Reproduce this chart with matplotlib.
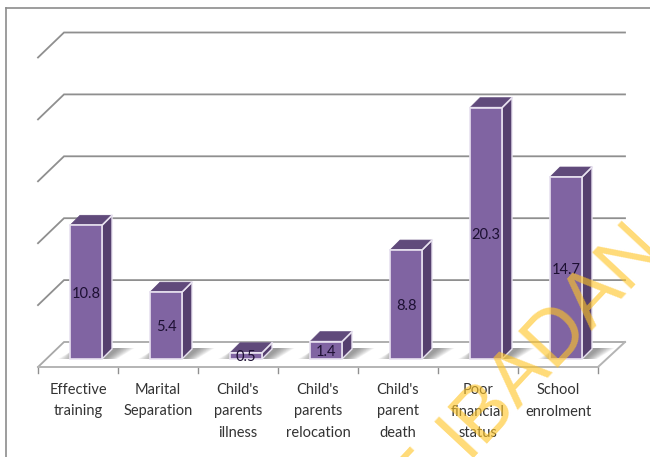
import matplotlib
matplotlib.use("Agg")
import matplotlib.pyplot as plt
from matplotlib.patches import Polygon

categories = [["Effective", "training"], ["Marital", "Separation"], ["Child's", "parents", "illness"],
              ["Child's", "parents", "relocation"], ["Child's", "parent", "death"],
              ["Poor", "financial", "status"], ["School", "enrolment"]]
values = [10.8, 5.4, 0.5, 1.4, 8.8, 20.3, 14.7]
value_labels = ["10.8", "5.4", "0.5", "1.4", "8.8", "20.3", "14.7"]
grid_values = [0, 5, 10, 15, 20, 25]

W, H = 650, 457
fig = plt.figure(figsize=(W / 100, H / 100), dpi=100, facecolor="white")
BASE = 359
UNIT = 12.38
ax = fig.add_axes([38 / W, (H - BASE) / H, 560 / W, UNIT * 25 / H], zorder=2)
ax.set_xlim(0, 7)
ax.set_ylim(0, 25)
ax.axis("off")
PX = 1 / 80          # one pixel in x data units
PY = 1 / UNIT        # one pixel in y data units

fig.add_artist(plt.Line2D([5.5 / W, 5.5 / W], [0, (H - 7.5) / H], color="#8c8c8c", lw=1.2))
fig.add_artist(plt.Line2D([5.5 / W, 1], [(H - 7.5) / H] * 2, color="#8c8c8c", lw=1.2))

# wall depth offsets in pixels
BDX, BDY = 26, 17
FDY = -8

for v in grid_values:
    c = "#a8a8a8" if v == 0 else "#8f8f8f"
    ax.plot([0, BDX * PX, 7 + (BDX + 1) * PX], [v + FDY * PY, v + BDY * PY, v + BDY * PY],
            color=c, lw=1.3, solid_joinstyle="miter", zorder=1, clip_on=False)

ax.plot([0, 7, 7 + (BDX + 1) * PX], [FDY * PY, FDY * PY, BDY * PY], color="#b4b4b4", lw=1.4,
        zorder=1.5, clip_on=False)
for i in range(8):
    ax.plot([i, i], [FDY * PY, (FDY - 6) * PY], color="#8f8f8f", lw=1, zorder=1, clip_on=False)

BAR_LEFT = 0.4
BAR_W = 0.4
DX, DY = 10, 10
FACE, TOP, SIDE, EDGE = "#8064A2", "#604A7B", "#553F6E", "#E8E2F0"

for i, (v, lab) in enumerate(zip(values, value_labels)):
    l, r = i + BAR_LEFT, i + BAR_LEFT + BAR_W
    for k in range(10):
        a = 0.07
        ax.add_patch(Polygon([(r, 0), (r + (4 + k * 1.2) * PX, 0), (r + (18 + k * 1.6) * PX, 11 * PY), (r + 10 * PX, 11 * PY)],
                             closed=True, fc="#4a4a4a", ec="none", alpha=a, zorder=2, clip_on=False))
        ax.add_patch(Polygon([(l, 0), (l - (2 + k * 1.1) * PX, 0), (l, 7 * PY)],
                             closed=True, fc="#4a4a4a", ec="none", alpha=a * 0.6, zorder=2, clip_on=False))
    dx, dy = DX * PX, DY * PY
    ax.add_patch(Polygon([(r, 0), (r + dx, dy), (r + dx, v + dy), (r, v)], closed=True,
                         fc=SIDE, ec=EDGE, lw=1, zorder=3, clip_on=False))
    ax.add_patch(Polygon([(l, v), (l + dx, v + dy), (r + dx, v + dy), (r, v)], closed=True,
                         fc=TOP, ec=TOP, lw=0.5, zorder=3, clip_on=False))
    ax.plot([l, r, r + dx], [v, v, v + dy], color=EDGE, lw=1.2, zorder=4, clip_on=False)
    ax.add_patch(Polygon([(l, 0), (r, 0), (r, v), (l, v)], closed=True,
                         fc=FACE, ec=EDGE, lw=1.2, zorder=4, clip_on=False))
    ax.text((l + r) / 2, v / 2 - 1.5 * PY, lab, ha="center", va="center", fontsize=10.5,
            family="Lato", color="#1d1033", zorder=5, clip_on=False)

# category labels, one text per line at the source's wide line pitch
for i, lines in enumerate(categories):
    for j, line in enumerate(lines):
        ax.text(i + 0.5, (-31 - 21.5 * j) * PY, line, ha="center", va="center", fontsize=10.5,
                family="Lato", color="#333333", clip_on=False, zorder=5)

# watermark
WM = dict(rotation=47, rotation_mode="anchor", ha="center", va="center", fontsize=56,
          family="Liberation Sans", color="#FFC526", alpha=0.62, zorder=10)
fig.text(551 / W, (H - 338) / H, "IBADAN", **WM)
fig.text(419 / W, (H - 480) / H, "F", **WM)

fig.savefig("out.png", dpi=100)
